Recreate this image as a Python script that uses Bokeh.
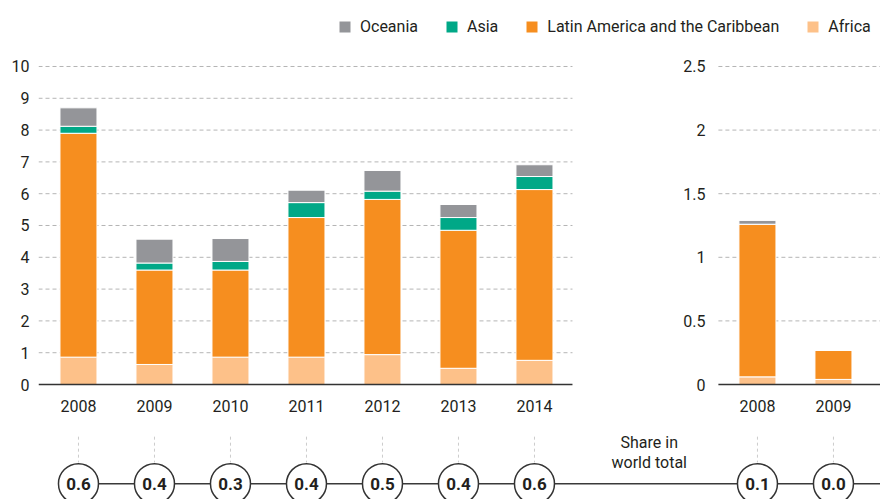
import numpy as np
from bokeh.plotting import figure
from bokeh.models import ColumnDataSource, Range1d, FixedTicker, Legend, LegendItem
from bokeh.core.properties import value
from bokeh.embed import file_html
from bokeh.resources import INLINE

# ---------------- data ----------------
series = ["Africa", "Latin America and the Caribbean", "Asia", "Oceania"]
colors = ["#fdc189", "#f68e1f", "#00a887", "#949599"]

years_left = ["2008", "2009", "2010", "2011", "2012", "2013", "2014"]
africa_left = [0.86, 0.63, 0.86, 0.86, 0.94, 0.51, 0.76]
latin_left = [7.04, 2.97, 2.74, 4.39, 4.88, 4.34, 5.37]
asia_left = [0.22, 0.22, 0.27, 0.47, 0.26, 0.40, 0.41]
oceania_left = [0.58, 0.75, 0.72, 0.39, 0.65, 0.41, 0.37]
share_left = ["0.6", "0.4", "0.3", "0.4", "0.5", "0.4", "0.6"]

years_right = ["2008", "2009"]
africa_right = [0.06, 0.04]
latin_right = [1.20, 0.23]
asia_right = [0.0, 0.0]
oceania_right = [0.03, 0.0]
share_right = ["0.1", "0.0"]

ticks_left = [0, 1, 2, 3, 4, 5, 6, 7, 8, 9, 10]
ticks_right = [0, 0.5, 1, 1.5, 2, 2.5]
tick_labels_right = ["0", "0.5", "1", "1.5", "2", "2.5"]
share_title = ["Share in", "world total"]

# ---------------- layout constants ----------------
FONT = "Roboto"
TXT = "#231f20"
FS = "16px"
X0, X1 = -0.526, 10.553
Y0, Y1 = -3.616, 12.075
RSCALE = 4.0
LEFT_END = 6.5
RIGHT_START = 8.42
RIGHT_X0 = 8.934
RLABEL_X = 8.25
BAR_W = 0.487
YEAR_Y = -0.69
VL_Y0, VL_Y1 = -1.64, -2.45
CIRC_Y = -3.12
SHARE_X = 7.51
SHARE_Y = [-1.83, -2.45]

x_left = list(np.arange(len(years_left), dtype=float))
x_right = list(RIGHT_X0 + np.arange(len(years_right), dtype=float))

p = figure(width=880, height=499, output_backend="svg", toolbar_location=None,
           x_range=Range1d(X0, X1), y_range=Range1d(Y0, Y1),
           x_axis_type=None, min_border_left=38, min_border_right=0,
           min_border_top=0, min_border_bottom=0)
p.extra_y_ranges = {"right": Range1d(Y0 / RSCALE, Y1 / RSCALE)}
p.outline_line_color = None
p.grid.visible = False
p.background_fill_color = "white"

ax = p.yaxis[0]
ax.ticker = FixedTicker(ticks=ticks_left)
ax.axis_line_color = None
ax.major_tick_line_color = None
ax.minor_tick_line_color = None
ax.major_tick_out = 0
ax.major_tick_in = 0
ax.minor_tick_out = 0
ax.major_label_standoff = 9
ax.major_label_text_font = FONT
ax.major_label_text_font_size = FS
ax.major_label_text_color = TXT

# grid lines
p.segment(x0=X0, x1=LEFT_END, y0=ticks_left[1:], y1=ticks_left[1:],
          line_color="#b5b5b5", line_width=1, line_dash="4 3")
p.segment(x0=RIGHT_START, x1=X1, y0=ticks_right[1:], y1=ticks_right[1:],
          line_color="#b5b5b5", line_width=1, line_dash="4 3", y_range_name="right")

keys = ["africa", "latin", "asia", "oceania"]
src_l = ColumnDataSource(dict(x=x_left, africa=africa_left, latin=latin_left,
                              asia=asia_left, oceania=oceania_left))
src_r = ColumnDataSource(dict(x=x_right, africa=africa_right, latin=latin_right,
                              asia=asia_right, oceania=oceania_right))
rl = p.vbar_stack(keys, x="x", width=BAR_W, color=colors, line_color="white",
                  line_width=1, source=src_l)
rr = p.vbar_stack(keys, x="x", width=BAR_W, color=colors, line_color="white",
                  line_width=1, source=src_r, y_range_name="right")

# baselines
p.segment(x0=[X0, RIGHT_START], x1=[LEFT_END, X1], y0=[0, 0], y1=[0, 0],
          line_color="#333333", line_width=1.6)

# right axis labels
p.text(x=[RLABEL_X] * len(ticks_right), y=ticks_right, text=tick_labels_right,
       y_range_name="right", text_align="right", text_baseline="middle",
       text_font=value(FONT), text_font_size=value(FS), text_color=TXT)

# year labels
p.text(x=x_left + x_right, y=[YEAR_Y] * (len(x_left) + len(x_right)),
       text=years_left + years_right, text_align="center", text_baseline="middle",
       text_font=value(FONT), text_font_size=value(FS), text_color=TXT)

# dashed connectors
all_x = x_left + x_right
p.segment(x0=all_x, x1=all_x, y0=VL_Y0, y1=VL_Y1, line_color="#cccccc",
          line_width=1, line_dash="3 3")

# share strip
p.segment(x0=[all_x[0]], x1=[X1], y0=[CIRC_Y], y1=[CIRC_Y], line_color="#3a3a3a",
          line_width=1.5)
p.scatter(x=all_x, y=[CIRC_Y] * len(all_x), size=40, marker="circle",
          fill_color="white", line_color="#333333", line_width=1.5)
p.text(x=all_x, y=[CIRC_Y] * len(all_x), text=share_left + share_right,
       text_align="center", text_baseline="middle", text_font=value(FONT),
       text_font_size=value("17px"), text_font_style="bold", text_color=TXT)
p.text(x=[SHARE_X] * 2, y=SHARE_Y, text=share_title, text_align="center",
       text_baseline="middle", text_font=value(FONT), text_font_size=value(FS),
       text_color=TXT)

legend = Legend(items=[LegendItem(label=series[3], renderers=[rl[3]]),
                       LegendItem(label=series[2], renderers=[rl[2]]),
                       LegendItem(label=series[1], renderers=[rl[1]]),
                       LegendItem(label=series[0], renderers=[rl[0]])],
                orientation="horizontal", location=(299, 463),
                glyph_width=15, glyph_height=15, label_standoff=8, spacing=26,
                padding=0, margin=0, border_line_color=None, background_fill_alpha=0,
                label_text_font=FONT, label_text_font_size=FS, label_text_color=TXT,
                label_height=20)
p.add_layout(legend, "center")

open("out.html", "w").write(file_html(p, INLINE))
